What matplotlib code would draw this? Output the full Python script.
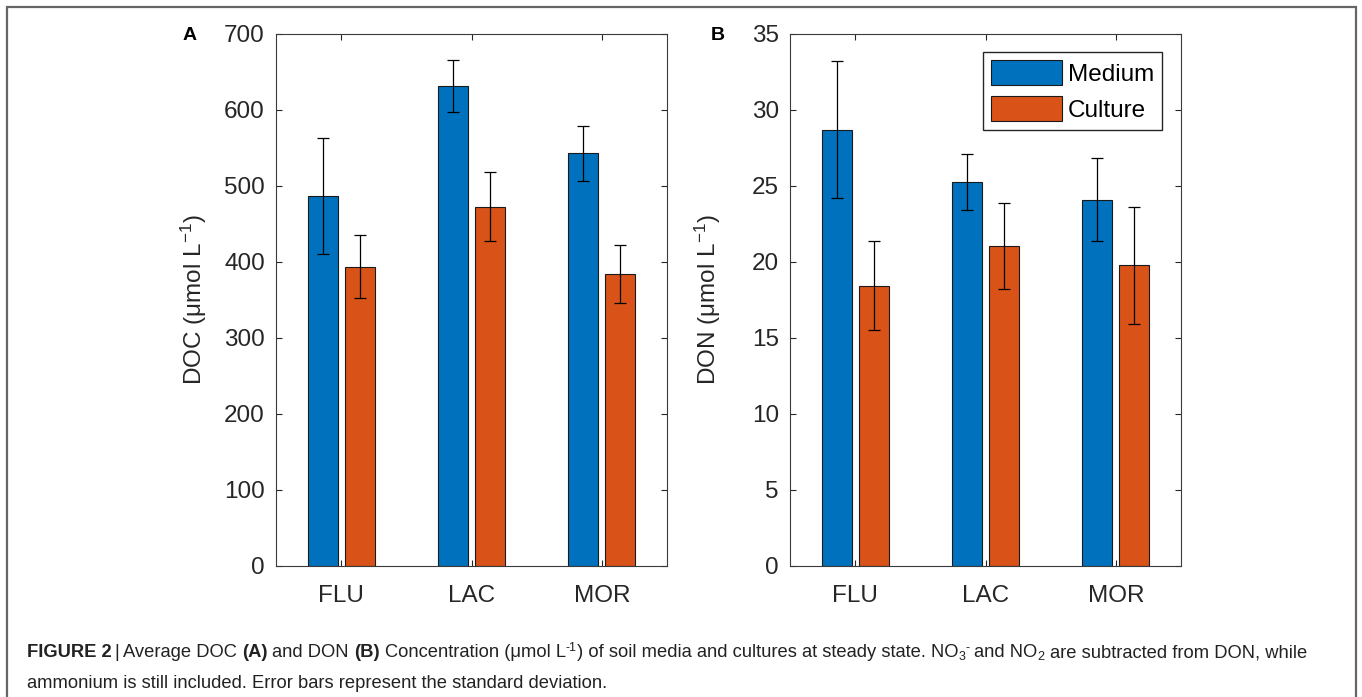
import matplotlib
matplotlib.use("Agg")
import matplotlib.pyplot as plt
from matplotlib.patches import Rectangle
from matplotlib import font_manager
import numpy as np

categories = ["FLU", "LAC", "MOR"]
series_names = ["Medium", "Culture"]
doc_medium = [487, 632, 543]
doc_medium_sd = [76, 34, 36]
doc_culture = [394, 473, 384]
doc_culture_sd = [42, 46, 38]
don_medium = [28.7, 25.25, 24.1]
don_medium_sd = [4.5, 1.86, 2.72]
don_culture = [18.45, 21.05, 19.8]
don_culture_sd = [2.92, 2.85, 3.85]
doc_ticks = [0, 100, 200, 300, 400, 500, 600, 700]
don_ticks = [0, 5, 10, 15, 20, 25, 30, 35]

W, H = 1362, 697
BLUE = "#0072BD"
ORANGE = "#D95319"
TXT = "#262626"

avail = {f.name for f in font_manager.fontManager.ttflist}
MAIN = "Liberation Sans" if "Liberation Sans" in avail else "DejaVu Sans"
CAP = "Liberation Sans Narrow" if "Liberation Sans Narrow" in avail else MAIN

plt.rcParams["font.family"] = [MAIN, "DejaVu Sans"]
plt.rcParams["mathtext.fontset"] = "custom"
plt.rcParams["mathtext.rm"] = MAIN
plt.rcParams["mathtext.it"] = MAIN + ":italic"
plt.rcParams["mathtext.bf"] = MAIN + ":bold"

fig = plt.figure(figsize=(W / 100, H / 100), dpi=100)
FS = 17.5


def px_axes(l, t, r, b):
    return [l / W, 1 - b / H, (r - l) / W, (b - t) / H]


def draw_panel(rect, med, med_sd, cul, cul_sd, ticks, ylabel, ymax, legend=False):
    ax = fig.add_axes(rect)
    x = np.arange(1, len(categories) + 1)
    bw = 0.23
    off = 0.143
    ek = dict(ecolor="black", elinewidth=0.9, capsize=4.5, capthick=0.9)
    ax.bar(x - off, med, bw, color=BLUE, edgecolor="#1a1a1a", linewidth=0.8,
           yerr=med_sd, error_kw=ek, label=series_names[0], zorder=2)
    ax.bar(x + off, cul, bw, color=ORANGE, edgecolor="#1a1a1a", linewidth=0.8,
           yerr=cul_sd, error_kw=ek, label=series_names[1], zorder=2)
    ax.set_xlim(0.5, 3.5)
    ax.set_ylim(0, ymax)
    ax.set_xticks(x)
    ax.set_xticklabels(categories)
    ax.set_yticks(ticks)
    ax.set_yticklabels([str(t) for t in ticks])
    ax.tick_params(axis="both", direction="in", length=4, width=0.8, color=TXT,
                   labelsize=FS, labelcolor=TXT, top=True, right=True)
    ax.tick_params(axis="y", pad=8)
    ax.tick_params(axis="x", pad=14)
    for s in ax.spines.values():
        s.set_color("#3a3a3a")
        s.set_linewidth(0.8)
    ax.set_ylabel(ylabel, fontsize=FS, color=TXT)
    ax.yaxis.set_label_coords(-0.172, 0.5)
    if legend:
        ax.legend(loc="upper right", bbox_to_anchor=(0.951, 0.9656), borderaxespad=0,
                  fontsize=FS, handlelength=2.95, handleheight=1.2, labelspacing=0.42,
                  borderpad=0.33, handletextpad=0.22, fancybox=False,
                  edgecolor="#262626", framealpha=1)
    return ax


axA = draw_panel(px_axes(276, 34, 667, 566), doc_medium, doc_medium_sd, doc_culture,
                 doc_culture_sd, doc_ticks, "DOC (μmol L$^{-1}$)", 700)
axB = draw_panel(px_axes(790, 34, 1181, 566), don_medium, don_medium_sd, don_culture,
                 don_culture_sd, don_ticks, "DON (μmol L$^{-1}$)", 35, legend=True)

fig.text(183 / W, 1 - 40 / H, "A", fontsize=14, fontweight="bold", va="baseline", ha="left")
fig.text(711 / W, 1 - 40 / H, "B", fontsize=14, fontweight="bold", va="baseline", ha="left")

# frame
fig.patches.append(Rectangle((7 / W, -0.05), (1356 - 7) / W, 1.05 - 7 / H,
                             transform=fig.transFigure, fill=False,
                             edgecolor="#666666", linewidth=1.6))

# caption
renderer = fig.canvas.get_renderer()
CS = 13.2


def width_of(s, size, weight):
    t = fig.text(0, 0, s, fontsize=size, fontweight=weight, family=[CAP, "DejaVu Sans"])
    w = t.get_window_extent(renderer).width
    t.remove()
    return w


space_w = width_of("x x", CS, "normal") - width_of("xx", CS, "normal")


def draw_line(x, y, segs):
    for seg in segs:
        s, weight, size, dy, gap = seg
        if s:
            t = fig.text(x / W, 1 - (y - dy) / H, s, fontsize=size, fontweight=weight,
                         family=[CAP, "DejaVu Sans"], va="baseline", ha="left", color="#222222")
            x += t.get_window_extent(renderer).width
        x += gap * space_w


N = "normal"
B = "bold"
SS = 9
line1 = [
    ("FIGURE 2", B, CS, 0, 0.6), ("|", N, CS, 0, 0.6),
    ("Average DOC", N, CS, 0, 1), ("(A)", B, CS, 0, 1),
    ("and DON", N, CS, 0, 1), ("(B)", B, CS, 0, 1),
    ("Concentration (μmol L", N, CS, 0, 0), ("-1", N, SS, 6, 0),
    (") of soil media and cultures at steady state. NO", N, CS, 0, 0),
    ("3", N, SS, -3, 0), ("-", N, SS, 6, 1),
    ("and NO", N, CS, 0, 0), ("2", N, SS, -3, 1),
    ("are subtracted from DON, while", N, CS, 0, 0),
]
line2 = [("ammonium is still included. Error bars represent the standard deviation.", N, CS, 0, 0)]
draw_line(27, 657, line1)
draw_line(27, 688, line2)

fig.savefig("out.png", dpi=100)
